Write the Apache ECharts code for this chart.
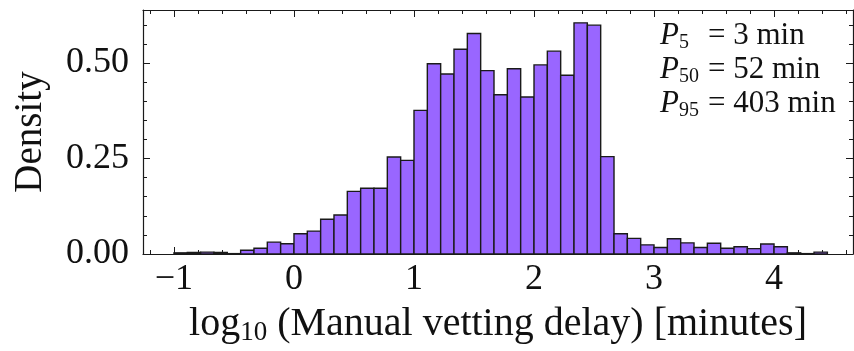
<!DOCTYPE html>
<html>
<head>
<meta charset="utf-8">
<script src="https://cdn.jsdelivr.net/npm/echarts@6/dist/echarts.min.js"></script>
<style>
  html, body { margin: 0; padding: 0; background: #fff; }
  #chart { width: 854px; height: 351px; }
</style>
</head>
<body>
<div id="chart"></div>
<script>
// histogram bins: edges start at -1, width 1/9 (log10 minutes)
const binStart = -1;
const binWidth = 1 / 9;
const densities = [
  0.003, 0.004, 0.005, 0.004, 0.001, 0.010, 0.015, 0.031, 0.027,
  0.053, 0.060, 0.091, 0.102, 0.164, 0.172, 0.172, 0.254, 0.245,
  0.376, 0.498, 0.471, 0.536, 0.577, 0.480, 0.417, 0.485, 0.411,
  0.495, 0.531, 0.468, 0.605, 0.599, 0.255, 0.053, 0.041, 0.024,
  0.017, 0.040, 0.029, 0.017, 0.028, 0.015, 0.019, 0.014, 0.026,
  0.019, 0.003, 0.001, 0.005
];

const xMin = -1.258, xMax = 4.658;
const yMin = 0, yMax = 0.6387;
const xMajorTicks = [-1, 0, 1, 2, 3, 4];
const xMinorTicks = [-1.2, -0.8, -0.6, -0.4, -0.2, 0.2, 0.4, 0.6, 0.8, 1.2, 1.4, 1.6, 1.8,
  2.2, 2.4, 2.6, 2.8, 3.2, 3.4, 3.6, 3.8, 4.2, 4.4, 4.6];
const yMajorTicks = [0, 0.25, 0.5];
const yMinorTicks = [0.05, 0.1, 0.15, 0.2, 0.3, 0.35, 0.4, 0.45, 0.55, 0.6];

const percentileNames = ['5', '50', '95'];
const percentileValues = ['3 min', '52 min', '403 min'];

const FONT = '"Liberation Serif", "DejaVu Serif", serif';
const INK = '#1a1a1a';

const chart = echarts.init(document.getElementById('chart'), null, { renderer: 'canvas' });

const binData = densities.map((d, i) => [binStart + i * binWidth, binStart + (i + 1) * binWidth, d]);

function xAxisDef(pos, ticks, len, showLine, withLabels) {
  return {
    type: 'value', position: pos, min: xMin, max: xMax,
    axisLine: { show: showLine, onZero: false, lineStyle: { color: INK, width: 1.2 } },
    axisTick: { show: true, inside: true, length: len, customValues: ticks, lineStyle: { color: INK, width: 1 } },
    axisLabel: withLabels ? {
      show: true, customValues: ticks, margin: 8,
      fontFamily: FONT, fontSize: 36, color: '#111',
      formatter: v => (v < 0 ? '\u2212' + Math.abs(v) : String(v))
    } : { show: false },
    splitLine: { show: false }
  };
}

function yAxisDef(pos, ticks, len, showLine, withLabels) {
  return {
    type: 'value', position: pos, min: yMin, max: yMax,
    axisLine: { show: showLine, onZero: false, lineStyle: { color: INK, width: 1.2 } },
    axisTick: { show: true, inside: true, length: len, customValues: ticks, lineStyle: { color: INK, width: 1 } },
    axisLabel: withLabels ? {
      show: true, customValues: ticks, margin: 14,
      fontFamily: FONT, fontSize: 36, color: '#111',
      formatter: v => v.toFixed(2)
    } : { show: false },
    splitLine: { show: false }
  };
}

const xMain = xAxisDef('bottom', xMajorTicks, 7, true, true);
xMain.name = '{a|log}{s|10}{a| (Manual vetting delay) [minutes]}';
xMain.nameLocation = 'middle';
xMain.nameGap = 48;
xMain.nameTextStyle = {
  fontFamily: FONT, color: '#111',
  rich: {
    a: { fontFamily: FONT, fontSize: 40, lineHeight: 44, color: '#111' },
    s: { fontFamily: FONT, fontSize: 27, lineHeight: 14, verticalAlign: 'bottom', color: '#111' }
  }
};

const yMain = yAxisDef('left', yMajorTicks, 7, true, true);
yMain.name = 'Density';
yMain.nameLocation = 'middle';
yMain.nameGap = 93;
yMain.nameTextStyle = { fontFamily: FONT, fontSize: 39, color: '#111' };

const annotation = percentileNames.map((n, i) => ({
  type: 'text',
  left: 660,
  top: 20 + i * 34,
  style: {
    text: '{p|P}{s|' + n + '}{e|= ' + percentileValues[i] + '}',
    rich: {
      p: { fontFamily: FONT, fontSize: 31, fontStyle: 'italic', lineHeight: 34, fill: '#111' },
      s: { fontFamily: FONT, fontSize: 20, lineHeight: 16, verticalAlign: 'bottom', width: 29, fill: '#111' },
      e: { fontFamily: FONT, fontSize: 31, lineHeight: 34, fill: '#111' }
    }
  }
}));

chart.setOption({
  animation: false,
  backgroundColor: '#fff',
  grid: { left: 143, right: 1, top: 10, bottom: 91, containLabel: false },
  xAxis: [
    xMain,
    xAxisDef('bottom', xMinorTicks, 4, false, false),
    xAxisDef('top', xMajorTicks, 7, true, false),
    xAxisDef('top', xMinorTicks, 4, false, false)
  ],
  yAxis: [
    yMain,
    yAxisDef('left', yMinorTicks, 4, false, false),
    yAxisDef('right', yMajorTicks, 7, true, false),
    yAxisDef('right', yMinorTicks, 4, false, false)
  ],
  graphic: annotation,
  series: [{
    type: 'custom',
    xAxisIndex: 0,
    yAxisIndex: 0,
    data: binData,
    renderItem: (params, api) => {
      const p0 = api.coord([api.value(0), api.value(2)]);
      const p1 = api.coord([api.value(1), 0]);
      return {
        type: 'rect',
        shape: { x: p0[0], y: p0[1], width: p1[0] - p0[0], height: p1[1] - p0[1] },
        style: { fill: '#9966ff', stroke: INK, lineWidth: 1.4 }
      };
    }
  }]
});
</script>
</body>
</html>
